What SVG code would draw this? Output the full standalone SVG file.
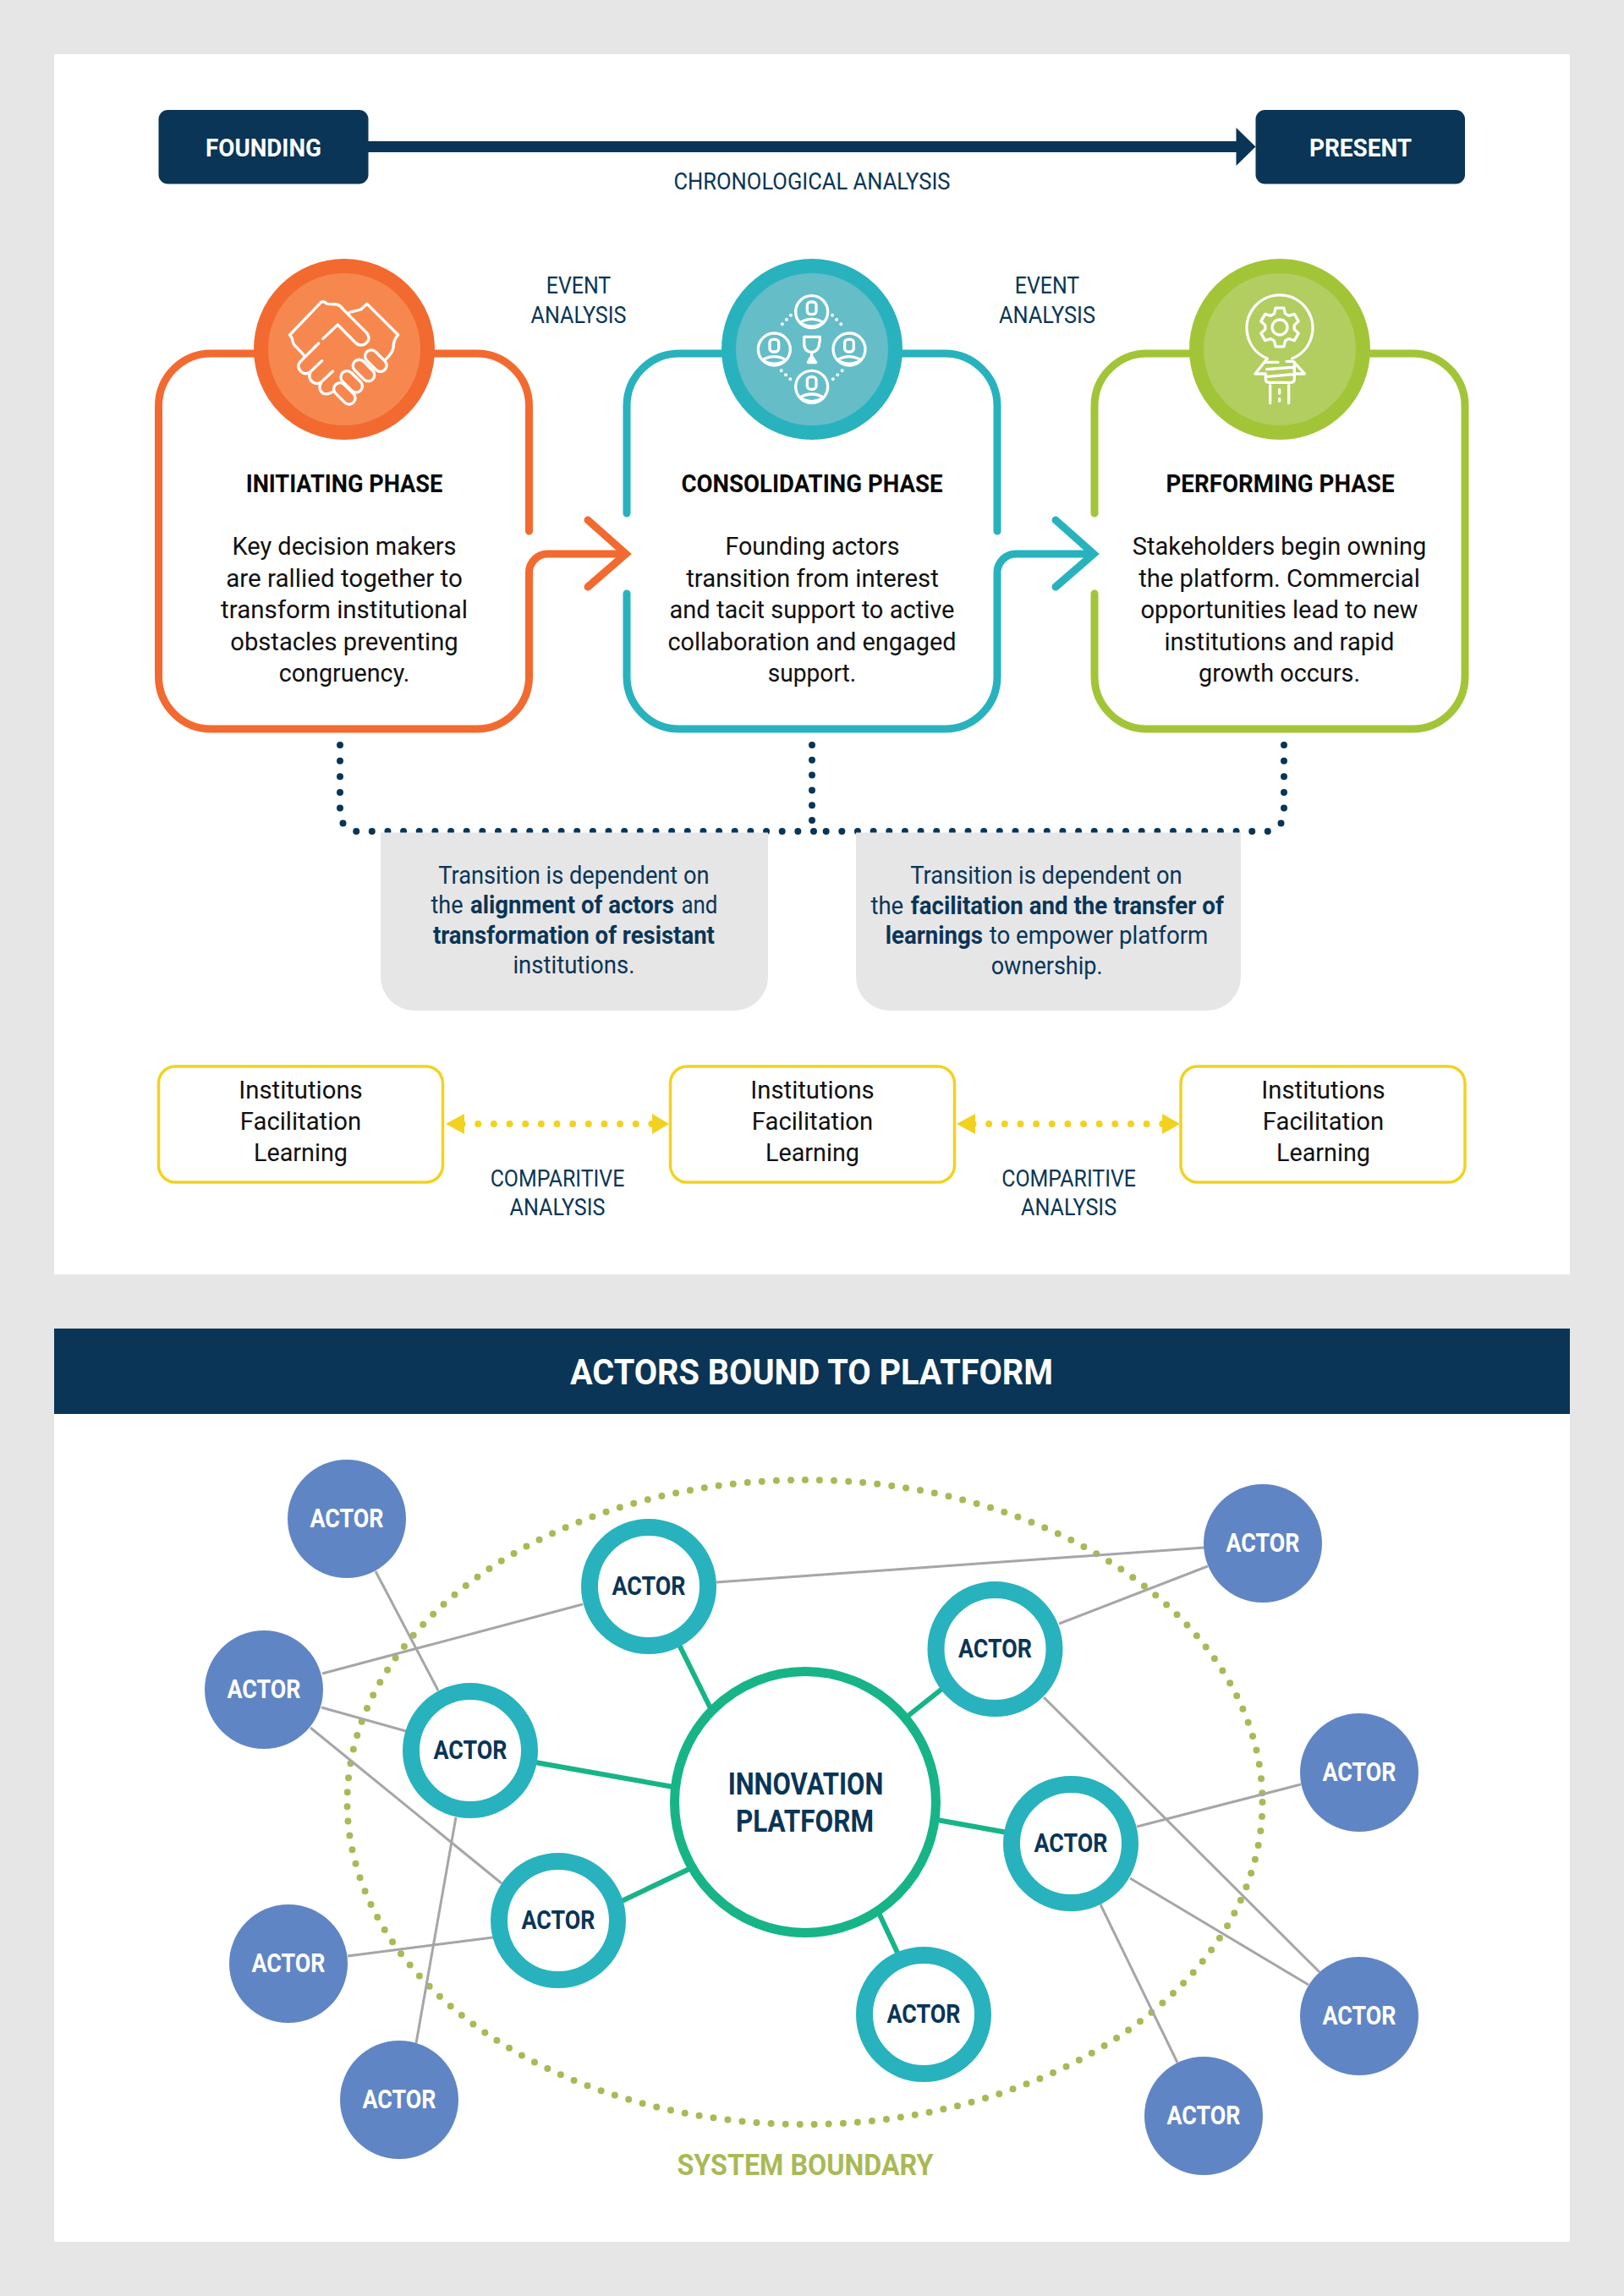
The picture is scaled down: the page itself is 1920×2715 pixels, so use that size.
<svg xmlns="http://www.w3.org/2000/svg" width="1920" height="2715" viewBox="0 0 1920 2715">
<style>
text{font-family:"Roboto","Liberation Sans",sans-serif;text-anchor:middle}
.tag{font-size:30px;font-weight:700;fill:#fff}
.cap{font-size:27.5px;font-weight:400;fill:#0a3556}
.phase{font-size:30px;font-weight:700;fill:#0a0a0a}
.body{font-size:30px;font-weight:400;fill:#111}
.note{font-size:29px;font-weight:400;fill:#0a3556}
.note .b,.b{font-weight:700}
.ins{font-size:30px;font-weight:400;fill:#111}
.actorA{font-size:31px;font-weight:700;fill:#fff}
.actorT{font-size:31px;font-weight:700;fill:#0a3556}
.hub{font-size:36px;font-weight:700;fill:#0a3556}
.head{font-size:43px;font-weight:700;fill:#fff}
.sys{font-size:35px;font-weight:700;fill:#a9b956}
.grey{stroke:#a6a6a8;stroke-width:3;fill:none}
.green{stroke:#17b488;stroke-width:6;fill:none}
.blue{fill:#6085c4}
.ring{fill:#fff;stroke:#28b2be;stroke-width:20}
.box{fill:none;stroke-width:9;stroke-linecap:round;stroke-linejoin:miter}
.ybox{fill:#fff;stroke:#f2d21f;stroke-width:3.5}
.icon{fill:none;stroke:#fff;stroke-width:10;stroke-linecap:round;stroke-linejoin:round}
.ndots{fill:none;stroke:#0a3556;stroke-width:8;stroke-linecap:round;stroke-dasharray:0 18.65}
.ndotsv{fill:none;stroke:#0a3556;stroke-width:8;stroke-linecap:round;stroke-dasharray:0 17.8}
.ydots{fill:none;stroke:#f2d21f;stroke-width:8;stroke-linecap:round;stroke-dasharray:0 18.65}
.sdots{fill:none;stroke:#a9b956;stroke-width:8;stroke-linecap:round;stroke-dasharray:0 17.1}
</style>
<defs>
<g id="person"><circle cx="0" cy="0" r="57"/><rect x="-16" y="-35" width="32" height="44" rx="12"/><path d="M-42 38Q0 14 42 38Q0 66-42 38Z"/></g>
</defs>
<rect width="1920" height="2715" fill="#e6e6e7"/>
<rect x="64" y="64" width="1792" height="1443" fill="#fff"/>
<rect x="64" y="1672" width="1792" height="979" fill="#fff"/>
<rect x="64" y="1571" width="1792" height="101" fill="#0a3556"/>
<text class="head" x="959.5" y="1636.7" textLength="571" lengthAdjust="spacingAndGlyphs">ACTORS BOUND TO PLATFORM</text>

<g id="connectors">
<rect x="435" y="167" width="1030" height="13" fill="#0a3556"/>
<path d="M1461.5 151L1484.5 173.5L1461.5 196Z" fill="#0a3556"/>
<path class="ndots" d="M402 881V962A21 21 0 0 0 423 983H965"/>
<path class="ndots" d="M1518 881V962A21 21 0 0 1 1497 983H970"/>
<path class="ndotsv" d="M960 881V975"/>
<path class="ydots" d="M546.6 1329H771"/>
<path class="ydots" d="M1150.5 1329H1375"/>
<path d="M527 1329L549 1317V1341Z" fill="#f2d21f"/>
<path d="M791 1329L771 1317V1341Z" fill="#f2d21f"/>
<path d="M1131 1329L1153 1317V1341Z" fill="#f2d21f"/>
<path d="M1395 1329L1374 1317V1341Z" fill="#f2d21f"/>
<ellipse class="sdots" cx="951.5" cy="2131" rx="541" ry="381"/>
<path class="grey" d="M444 1858L518 1999"/>
<path class="grey" d="M381 1979L689 1897"/>
<path class="grey" d="M380 2019L480 2047"/>
<path class="grey" d="M367 2043L593 2227"/>
<path class="grey" d="M539 2149L492 2416"/>
<path class="grey" d="M411 2313L583 2291"/>
<path class="grey" d="M847 1871L1424 1830"/>
<path class="grey" d="M1252 1920L1428 1852"/>
<path class="grey" d="M1234 2007L1560 2332"/>
<path class="grey" d="M1344 2160L1538 2110"/>
<path class="grey" d="M1336 2221L1547 2347"/>
<path class="grey" d="M1301 2252L1392 2439"/>
<path class="green" d="M803 1945L840 2020"/>
<path class="green" d="M633 2084L796 2113"/>
<path class="green" d="M735 2248L817 2209"/>
<path class="green" d="M1115 1996L1071 2031"/>
<path class="green" d="M1108 2152L1191 2167"/>
<path class="green" d="M1039 2262L1061 2309"/>
</g>

<g id="founding"><rect x="187.5" y="130" width="248" height="87.5" rx="11" fill="#0a3556"/><text class="tag" x="311.5" y="184.6" textLength="137" lengthAdjust="spacingAndGlyphs">FOUNDING</text></g>
<g id="present"><rect x="1484.5" y="130" width="247.5" height="87.5" rx="11" fill="#0a3556"/><text class="tag" x="1608.5" y="184.6" textLength="121" lengthAdjust="spacingAndGlyphs">PRESENT</text></g>
<text class="cap" x="960" y="224.4" textLength="327" lengthAdjust="spacingAndGlyphs">CHRONOLOGICAL ANALYSIS</text>
<text class="cap" x="684" y="347" textLength="76.5" lengthAdjust="spacingAndGlyphs">EVENT</text>
<text class="cap" x="684" y="381.6" textLength="113" lengthAdjust="spacingAndGlyphs">ANALYSIS</text>
<text class="cap" x="1238" y="347" textLength="76.5" lengthAdjust="spacingAndGlyphs">EVENT</text>
<text class="cap" x="1238" y="381.6" textLength="114" lengthAdjust="spacingAndGlyphs">ANALYSIS</text>

<g id="initiating">
<path class="box" stroke="#f26a30" d="M625.5 628V480A62 62 0 0 0 563.5 418H249.5A62 62 0 0 0 187.5 480V800A62 62 0 0 0 249.5 862H563.5A62 62 0 0 0 625.5 800V677A22 22 0 0 1 647.5 655H738"/>
<path class="box" stroke="#f26a30" d="M695 615L740 655L695 694"/>
<circle cx="407" cy="413" r="98.5" fill="#f6884f" stroke="#f26a30" stroke-width="17"/>
<g class="icon" transform="translate(280 290) scale(.3333)">
<path d="M240 392L212 362Q197 350 197 332L188 318L298 203Q308 196 320 208L355 210Q366 212 376 226L460 310Q478 335 455 350Q435 360 420 345L358 282L305 332"/>
<path d="M400 238L440 228L462 208L572 318Q555 335 555 365Q550 385 528 405"/>
<rect x="448" y="388" width="90" height="44" rx="22" transform="rotate(45 493 410)"/>
<rect x="405" y="422" width="90" height="44" rx="22" transform="rotate(45 450 444)"/>
<rect x="362" y="462" width="90" height="44" rx="22" transform="rotate(45 407 484)"/>
<rect x="337" y="504" width="90" height="44" rx="22" transform="rotate(45 382 526)"/>
<path d="M290 348L228 410Q208 430 230 450Q245 462 262 448L302 410M262 448Q250 470 268 485Q285 497 300 485L340 447M300 485Q285 510 305 525Q320 532 340 520"/>
</g>
<text class="phase" x="407" y="581.6" textLength="232.6" lengthAdjust="spacingAndGlyphs">INITIATING PHASE</text>
<text class="body" x="407" y="656" textLength="265" lengthAdjust="spacingAndGlyphs">Key decision makers</text>
<text class="body" x="407" y="693.6" textLength="279.6" lengthAdjust="spacingAndGlyphs">are rallied together to</text>
<text class="body" x="407" y="731.2" textLength="291.8" lengthAdjust="spacingAndGlyphs">transform institutional</text>
<text class="body" x="407" y="768.8" textLength="269.4" lengthAdjust="spacingAndGlyphs">obstacles preventing</text>
<text class="body" x="407" y="806.4" textLength="154.6" lengthAdjust="spacingAndGlyphs">congruency.</text>
</g>

<g id="consolidating">
<path class="box" stroke="#28b2be" d="M741 607V480A62 62 0 0 1 803 418H1117A62 62 0 0 1 1179 480V628"/>
<path class="box" stroke="#28b2be" d="M741 702V800A62 62 0 0 0 803 862H1117A62 62 0 0 0 1179 800V677A22 22 0 0 1 1201 655H1291"/>
<path class="box" stroke="#28b2be" d="M1248 615L1293 655L1248 694"/>
<circle cx="960" cy="413" r="98.5" fill="#65bdc8" stroke="#28b2be" stroke-width="17"/>
<g class="icon" transform="translate(830 290) scale(.3333)">
<use href="#person" x="389" y="236"/><use href="#person" x="256" y="369"/><use href="#person" x="522" y="369"/><use href="#person" x="389" y="502"/>
<path d="M418 342V325H362V350Q362 376 389 380Q416 376 416 345M389 380V398"/>
<path d="M376 416L386 398H392L404 416Z" fill="#fff"/>
<path stroke-width="12" stroke-dasharray="0 22" d="M315 248L270 295M462 248L508 295M281 445L315 477M497 445L462 477"/>
</g>
<text class="phase" x="960" y="581.6" textLength="309" lengthAdjust="spacingAndGlyphs">CONSOLIDATING PHASE</text>
<text class="body" x="960.5" y="656" textLength="206" lengthAdjust="spacingAndGlyphs">Founding actors</text>
<text class="body" x="960.5" y="693.6" textLength="298.6" lengthAdjust="spacingAndGlyphs">transition from interest</text>
<text class="body" x="960" y="731.2" textLength="337" lengthAdjust="spacingAndGlyphs">and tacit support to active</text>
<text class="body" x="960" y="768.8" textLength="341" lengthAdjust="spacingAndGlyphs">collaboration and engaged</text>
<text class="body" x="960" y="806.4" textLength="104.5" lengthAdjust="spacingAndGlyphs">support.</text>
</g>

<g id="performing">
<path class="box" stroke="#a2c538" d="M1294 607V480A62 62 0 0 1 1356 418H1670A62 62 0 0 1 1732 480V800A62 62 0 0 1 1670 862H1356A62 62 0 0 1 1294 800V702"/>
<circle cx="1513" cy="413" r="98.5" fill="#b2cd60" stroke="#a2c538" stroke-width="17"/>
<g class="icon" transform="translate(1385 290) scale(.3333)">
<path d="M340 402A117 117 0 1 1 428 402"/>
<circle cx="384" cy="291" r="27"/>
<path d="M364.500 242.800L369.400 222.500H398.600L403.500 242.800L416 250L436 244.200L450.600 269.400L435.500 283.800V298.200L450.600 312.600L436 337.800L416 332L403.500 339.200L398.600 359.500H369.400L364.500 339.200L352 332L332 337.800L317.400 312.600L332.500 298.200V283.800L317.400 269.400L332 244.200L352 250Z"/>
<path d="M340 402L297 456H334M335 415H378M408 412H432L472 456H436M338 440L432 433M338 466L432 458M334 456V475Q334 487 346 487H424Q436 487 436 475V415"/>
<path d="M350 497V560M416 497V560M383 512V526M383 545V553"/>
</g>
<text class="phase" x="1513.5" y="581.6" textLength="270" lengthAdjust="spacingAndGlyphs">PERFORMING PHASE</text>
<text class="body" x="1512.5" y="656" textLength="347.5" lengthAdjust="spacingAndGlyphs">Stakeholders begin owning</text>
<text class="body" x="1512.5" y="693.6" textLength="332.7" lengthAdjust="spacingAndGlyphs">the platform. Commercial</text>
<text class="body" x="1512.5" y="731.2" textLength="328" lengthAdjust="spacingAndGlyphs">opportunities lead to new</text>
<text class="body" x="1512.5" y="768.8" textLength="272" lengthAdjust="spacingAndGlyphs">institutions and rapid</text>
<text class="body" x="1512.5" y="806.4" textLength="191" lengthAdjust="spacingAndGlyphs">growth occurs.</text>
</g>

<g id="note-1">
<path d="M450 984.500H908V1155A40 40 0 0 1 868 1195H490A40 40 0 0 1 450 1155Z" fill="#e6e6e7"/>
<text class="note" x="678.400" y="1044.700" textLength="320.400" lengthAdjust="spacingAndGlyphs">Transition is dependent on</text>
<text class="note" y="1080" style="text-anchor:start"><tspan x="509.500" textLength="38" lengthAdjust="spacingAndGlyphs">the</tspan> <tspan class="b" x="556" textLength="241" lengthAdjust="spacingAndGlyphs">alignment of actors</tspan> <tspan x="805.400" textLength="43" lengthAdjust="spacingAndGlyphs">and</tspan></text>
<text class="note b" x="678.400" y="1115.600" textLength="333" lengthAdjust="spacingAndGlyphs">transformation of resistant</text>
<text class="note" x="678.400" y="1151" textLength="144" lengthAdjust="spacingAndGlyphs">institutions.</text>
</g>
<g id="note-2">
<path d="M1012 984.500H1467V1155A40 40 0 0 1 1427 1195H1052A40 40 0 0 1 1012 1155Z" fill="#e6e6e7"/>
<text class="note" x="1237" y="1045.400" textLength="321.400" lengthAdjust="spacingAndGlyphs">Transition is dependent on</text>
<text class="note" y="1080.700" style="text-anchor:start"><tspan x="1029.400" textLength="38.800" lengthAdjust="spacingAndGlyphs">the</tspan> <tspan class="b" x="1076.800" textLength="370" lengthAdjust="spacingAndGlyphs">facilitation and the transfer of</tspan></text>
<text class="note" y="1116.300" style="text-anchor:start"><tspan class="b" x="1046.700" textLength="115.300" lengthAdjust="spacingAndGlyphs">learnings</tspan> <tspan x="1169.700" textLength="258.700" lengthAdjust="spacingAndGlyphs">to empower platform</tspan></text>
<text class="note" x="1237.700" y="1151.600" textLength="132" lengthAdjust="spacingAndGlyphs">ownership.</text>
</g>

<g id="ins-1"><rect class="ybox" x="187.500" y="1261" width="336" height="137" rx="20"/>
<text class="ins" x="355.500" y="1298.700" textLength="146.400" lengthAdjust="spacingAndGlyphs">Institutions</text><text class="ins" x="355.500" y="1336" textLength="143.400" lengthAdjust="spacingAndGlyphs">Facilitation</text><text class="ins" x="355.500" y="1373.400" textLength="111" lengthAdjust="spacingAndGlyphs">Learning</text></g>
<g id="ins-2"><rect class="ybox" x="792.500" y="1261" width="336" height="137" rx="20"/>
<text class="ins" x="960.500" y="1298.700" textLength="146.400" lengthAdjust="spacingAndGlyphs">Institutions</text><text class="ins" x="960.500" y="1336" textLength="143.400" lengthAdjust="spacingAndGlyphs">Facilitation</text><text class="ins" x="960.500" y="1373.400" textLength="111" lengthAdjust="spacingAndGlyphs">Learning</text></g>
<g id="ins-3"><rect class="ybox" x="1396" y="1261" width="336" height="137" rx="20"/>
<text class="ins" x="1564.500" y="1298.700" textLength="146.400" lengthAdjust="spacingAndGlyphs">Institutions</text><text class="ins" x="1564.500" y="1336" textLength="143.400" lengthAdjust="spacingAndGlyphs">Facilitation</text><text class="ins" x="1564.500" y="1373.400" textLength="111" lengthAdjust="spacingAndGlyphs">Learning</text></g>
<text class="cap" x="659" y="1403.300" textLength="158.700" lengthAdjust="spacingAndGlyphs">COMPARITIVE</text>
<text class="cap" x="659" y="1436.600" textLength="113" lengthAdjust="spacingAndGlyphs">ANALYSIS</text>
<text class="cap" x="1263.600" y="1403.300" textLength="158.700" lengthAdjust="spacingAndGlyphs">COMPARITIVE</text>
<text class="cap" x="1263.600" y="1436.600" textLength="113" lengthAdjust="spacingAndGlyphs">ANALYSIS</text>

<g id="hub"><circle cx="952" cy="2131" r="154.500" fill="#fff" stroke="#17b488" stroke-width="11"/>
<text class="hub" x="952.500" y="2122" textLength="183.700" lengthAdjust="spacingAndGlyphs">INNOVATION</text><text class="hub" x="951.500" y="2166" textLength="163" lengthAdjust="spacingAndGlyphs">PLATFORM</text></g>

<g id="t1"><circle class="ring" cx="767" cy="1876" r="70"/><text class="actorT" x="767" y="1886" textLength="87" lengthAdjust="spacingAndGlyphs">ACTOR</text></g>
<g id="t2"><circle class="ring" cx="556" cy="2070" r="70"/><text class="actorT" x="556" y="2080" textLength="87" lengthAdjust="spacingAndGlyphs">ACTOR</text></g>
<g id="t3"><circle class="ring" cx="1176.500" cy="1950" r="70"/><text class="actorT" x="1176.500" y="1960" textLength="87" lengthAdjust="spacingAndGlyphs">ACTOR</text></g>
<g id="t4"><circle class="ring" cx="1266" cy="2180" r="70"/><text class="actorT" x="1266" y="2190" textLength="87" lengthAdjust="spacingAndGlyphs">ACTOR</text></g>
<g id="t5"><circle class="ring" cx="660" cy="2271" r="70"/><text class="actorT" x="660" y="2281" textLength="87" lengthAdjust="spacingAndGlyphs">ACTOR</text></g>
<g id="t6"><circle class="ring" cx="1092" cy="2382" r="70"/><text class="actorT" x="1092" y="2392" textLength="87" lengthAdjust="spacingAndGlyphs">ACTOR</text></g>

<g id="a1"><circle class="blue" cx="410" cy="1796" r="70"/><text class="actorA" x="410" y="1806" textLength="87" lengthAdjust="spacingAndGlyphs">ACTOR</text></g>
<g id="a2"><circle class="blue" cx="312" cy="1998" r="70"/><text class="actorA" x="312" y="2008" textLength="87" lengthAdjust="spacingAndGlyphs">ACTOR</text></g>
<g id="a3"><circle class="blue" cx="1493" cy="1825" r="70"/><text class="actorA" x="1493" y="1835" textLength="87" lengthAdjust="spacingAndGlyphs">ACTOR</text></g>
<g id="a4"><circle class="blue" cx="1607" cy="2096" r="70"/><text class="actorA" x="1607" y="2106" textLength="87" lengthAdjust="spacingAndGlyphs">ACTOR</text></g>
<g id="a5"><circle class="blue" cx="341" cy="2322" r="70"/><text class="actorA" x="341" y="2332" textLength="87" lengthAdjust="spacingAndGlyphs">ACTOR</text></g>
<g id="a6"><circle class="blue" cx="472" cy="2483" r="70"/><text class="actorA" x="472" y="2493" textLength="87" lengthAdjust="spacingAndGlyphs">ACTOR</text></g>
<g id="a7"><circle class="blue" cx="1607" cy="2384" r="70"/><text class="actorA" x="1607" y="2394" textLength="87" lengthAdjust="spacingAndGlyphs">ACTOR</text></g>
<g id="a8"><circle class="blue" cx="1423" cy="2502" r="70"/><text class="actorA" x="1423" y="2512" textLength="87" lengthAdjust="spacingAndGlyphs">ACTOR</text></g>
<text class="sys" x="952" y="2571.700" textLength="303" lengthAdjust="spacingAndGlyphs">SYSTEM BOUNDARY</text>
</svg>
